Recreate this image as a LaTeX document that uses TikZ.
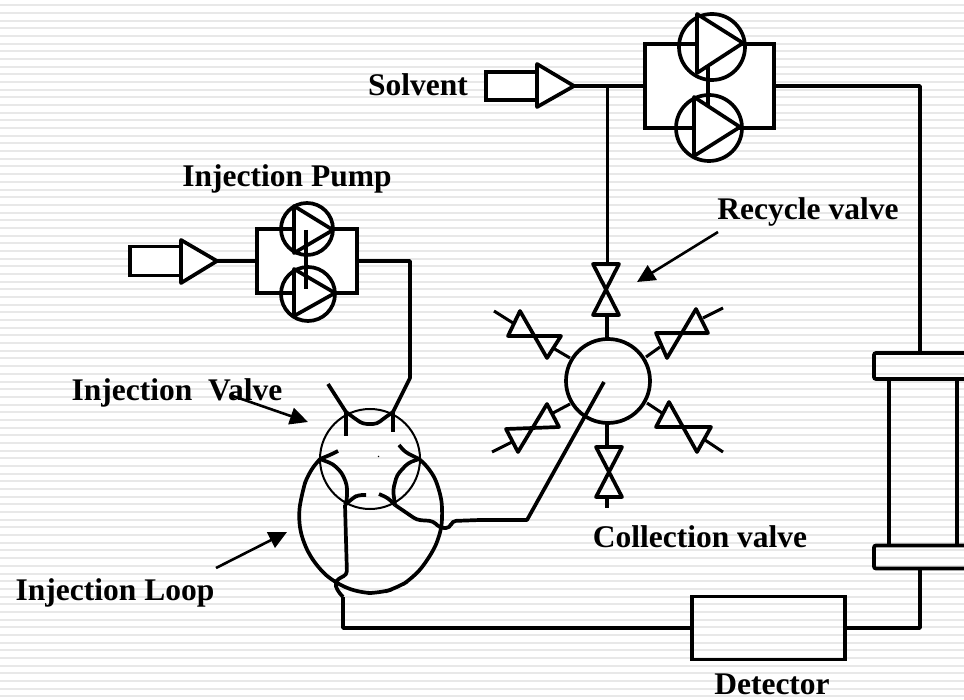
\documentclass[tikz,border=0pt]{standalone}
\usepackage{fontspec}
\setmainfont{Liberation Serif}
\usetikzlibrary{arrows.meta}
\tikzset{
  pipe/.style={line width=3.7pt, line join=round},
  thin pipe/.style={line width=3pt, line join=round},
  wobble/.style={line width=3.7pt, line join=round, rounded corners=4pt},
  box/.style={draw, line width=3.7pt, fill=white, rectangle, inner sep=0pt, outer sep=0pt},
  flange/.style={draw, line width=3.7pt, rectangle, rounded corners=2pt, inner sep=0pt, outer sep=0pt},
  ring/.style={draw, circle, inner sep=0pt, outer sep=0pt},
  tri/.style={draw, line width=3.7pt, fill=white, line join=round},
  lbl/.style={font=\fontsize{31.5}{34}\selectfont\bfseries, inner sep=0pt, text=black},
  pointer/.style={line width=2.6pt, -{Triangle[length=18pt,width=17pt]}}
}
\begin{document}
\begin{tikzpicture}[x=1pt, y=-1pt]
      \clip (0,0) rectangle (964,700);
      \fill[white] (0,0) rectangle (964,700);
      \foreach \i in {0,...,90}
        \fill[gray!18] (0,{4.2+7.68*\i}) rectangle (964,{6.2+7.68*\i});
      % solvent side
      \node[box, minimum width=51pt, minimum height=28pt] (solvent) at (511.5,86) {};
      \node[box, minimum width=129pt, minimum height=84pt] (mainbox) at (709.5,86) {};
      \node[ring, fill=white, line width=3.7pt, minimum size=66pt] (maintop) at (712,47) {};
      \node[ring, fill=white, line width=3.7pt, minimum size=66pt] (mainbot) at (709,128) {};
      \draw[pipe] (mainbox.north west) -- (mainbox.north east);
      \draw[pipe] (mainbox.south west) -- (mainbox.south east);
      \draw[pipe] (708,67) -- (708,105);
      \draw[tri] (697,14) -- (743,43) -- (697,73) -- cycle;
      \draw[tri] (694,97) -- (740,127) -- (694,156) -- cycle;
      \draw[tri] (537,64) -- (574,86) -- (537,107) -- cycle;
      \coordinate (solventtip) at (574,86);
      \coordinate (tee) at (607,86);
      \draw[pipe] (solventtip) -- (mainbox.west);
      \draw[thin pipe] (tee) -- (607,264);
      % injection pump
      \node[box, minimum width=100pt, minimum height=64pt] (injbox) at (307,261) {};
      \node[box, minimum width=51pt, minimum height=29pt] (injin) at (155.5,261) {};
      \node[ring, fill=white, line width=3.7pt, minimum size=52pt] (injtop) at (307,229) {};
      \node[ring, fill=white, line width=3.7pt, minimum size=54pt] (injbot) at (308,294) {};
      \draw[pipe] (injbox.north west) -- (injbox.north east);
      \draw[pipe] (injbox.south west) -- (injbox.south east);
      \draw[tri] (294,206) -- (333,230) -- (294,253) -- cycle;
      \draw[tri] (294,269) -- (335,293) -- (294,316) -- cycle;
      \draw[pipe] (306,230) -- (306,289);
      \draw[tri] (181,240) -- (217,261) -- (181,283) -- cycle;
      \coordinate (injtip) at (217,261);
      \draw[pipe] (injtip) -- (injbox.west);
      % injection valve
      \node[ring, line width=2pt, minimum size=100pt] (injvalve) at (370,459) {};
      \coordinate (pa) at (346,412);
      \coordinate (pb) at (393,412);
      \coordinate (pc) at (320,459);
      \coordinate (pd) at (419,459);
      \coordinate (pe) at (345,505);
      \coordinate (pf) at (395,505);
      \draw[pipe] (injbox.east) -- (410,261) -- (410,378) -- (pb) -- (393,432);
      \draw[pipe] (328,384) -- (pa) -- (346,436);
      \draw[wobble] (pa) -- (357,420) -- (363,424) -- (377,424) -- (383,419) -- (pb);
      \draw[wobble] (pc) -- (330,455) -- (338,451);
      \draw[wobble] (pd) -- (405,452) -- (399,445);
      \draw[wobble] (pc) -- (333,464) -- (342,473) -- (347,485) -- (347,500) -- (pe);
      \draw[wobble] (pe) -- (353,498) -- (358,495) -- (366,495);
      \draw[wobble] (pd) -- (408,463) -- (397,475) -- (393,490) -- (pf);
      \draw[wobble] (pf) -- (388,498) -- (379,494);
      \draw[line width=1pt] (378,457) -- (379,456);
      % loop
      \draw[line width=3.7pt, line join=round, rounded corners=12pt] (pc) -- (308,473) -- (302,493) -- (298,517) -- (303,543) -- (317,567)
        -- (335,583) -- (360,593) -- (380,593) -- (397,588) -- (413,578) -- (428,560)
        -- (440,537) -- (443,513) -- (440,490) -- (430,468) -- (pd);
      % detector and column
      \node[box, fill=none, minimum width=153pt, minimum height=63pt] (detector) at (768.5,628) {};
      \node[flange, minimum width=110pt, minimum height=26pt, anchor=west] (flangetop) at (874,366) {};
      \node[flange, minimum width=110pt, minimum height=23pt, anchor=west] (flangebot) at (874,557) {};
      \draw[pipe] (889,379) -- (889,545);
      \draw[pipe] (957,379) -- (957,545);
      \draw[pipe] (mainbox.east) -- (920,86) -- (920,353);
      \draw[pipe] (920,568) -- (920,628) -- (detector.east);
      \draw[pipe] (detector.west) -- (343,628) -- (343,597);
      \draw[wobble] (343,597) -- (337,590) -- (335,583) -- (339,578) -- (347,575) -- (pe);
      % hub and valves
      \node[ring, line width=3.7pt, minimum size=84pt] (hub) at (608,381) {};
      \coordinate (hubarm) at (604,382);
      \draw[wobble] (395,505) -- (417,520) -- (433,521) -- (440,528) -- (450,528)
        -- (452,521) -- (480,520);
      \draw[pipe] (480,520) -- (527,520) -- (hubarm);
      \draw[pipe] (607,315) -- (607,339);
      \draw[pipe] (607,423) -- (607,447);
      \draw[pipe] (607,497) -- (607,508);
      \draw[tri, fill=none] (593,264) -- (619,264) -- (593,315) -- (619,315) -- cycle;
      \draw[tri, fill=none] (596,447) -- (622,447) -- (596,497) -- (622,497) -- cycle;
      \draw[tri, fill=none] (656,333) -- (708,333) -- (696,309) -- (667,358) -- cycle;
      \draw[tri, fill=none] (508,336) -- (561,336) -- (547,358) -- (520,311) -- cycle;
      \draw[tri, fill=none] (506,429) -- (559,427) -- (547,404) -- (518,452) -- cycle;
      \draw[tri, fill=none] (656,427) -- (711,427) -- (697,452) -- (669,402) -- cycle;
      \foreach \ax/\ay/\bx/\by in {646/357/660/347, 703/318/723/308, 494/311/513/323,
          553/348/570/358, 492/452/512/442, 553/413/570/404, 647/403/662/413, 705/440/723/452}
        \draw[thin pipe] (\ax,\ay) -- (\bx,\by);
      % labels
      \node[lbl] (lsolvent) at (418,85) {Solvent};
      \node[lbl] (lpump) at (287,179) {Injection Pump};
      \node[lbl] (lrecycle) at (808,212) {Recycle valve};
      \node[lbl] (lvalve) at (177,393) {Injection\ \ Valve};
      \node[lbl] (lcollect) at (700,537) {Collection valve};
      \node[lbl] (lloop) at (115,593) {Injection Loop};
      \node[lbl] (ldetector) at (772,684) {Detector};
      \draw[pointer] (718,232) -- (637,282);
      \draw[pointer] (230,395) -- (308,422);
      \draw[pointer] (216,568) -- (287,532);
    \end{tikzpicture}
\end{document}
